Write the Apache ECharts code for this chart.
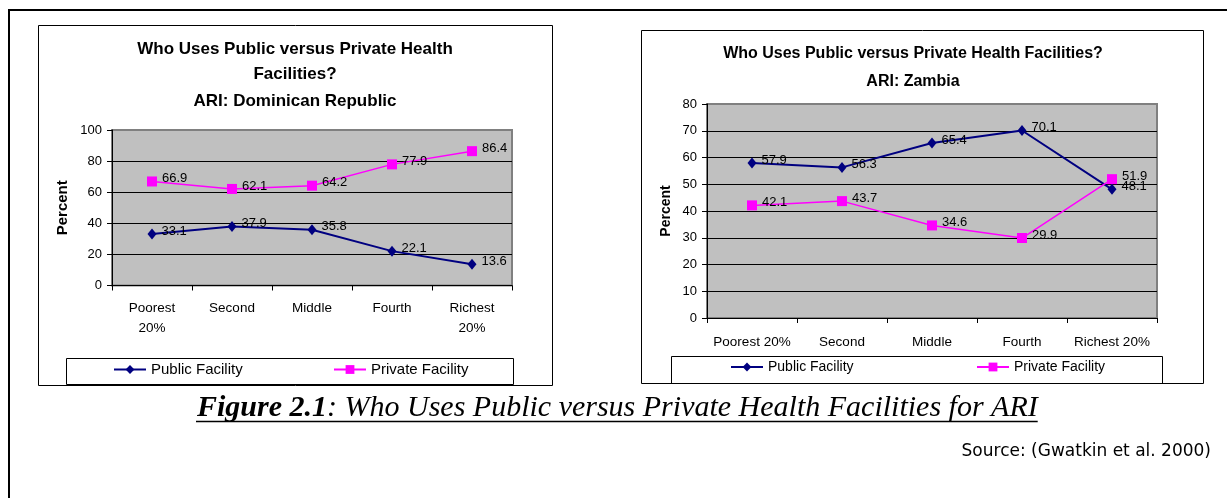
<!DOCTYPE html>
<html><head><meta charset="utf-8">
<script src="https://cdn.jsdelivr.net/npm/echarts@6/dist/echarts.min.js"></script>
<style>html,body{margin:0;padding:0;background:#fff}#c{width:1227px;height:498px}</style>
</head><body><div id="c"></div>
<script>
// ---- data ----
const drCategories = ['Poorest\n20%', 'Second', 'Middle', 'Fourth', 'Richest\n20%'];
const zmCategories = ['Poorest 20%', 'Second', 'Middle', 'Fourth', 'Richest 20%'];
const drPublic = [33.1, 37.9, 35.8, 22.1, 13.6];
const drPrivate = [66.9, 62.1, 64.2, 77.9, 86.4];
const zmPublic = [57.9, 56.3, 65.4, 70.1, 48.1];
const zmPrivate = [42.1, 43.7, 34.6, 29.9, 51.9];
const drTitle = ['Who Uses Public versus Private Health', 'Facilities?', 'ARI: Dominican Republic'];
const zmTitle = ['Who Uses Public versus Private Health Facilities?', 'ARI: Zambia'];
const seriesNames = ['Public Facility', 'Private Facility'];
const yLabel = 'Percent';
const captionBold = 'Figure 2.1';
const captionRest = ': Who Uses Public versus Private Health Facilities for ARI';
const sourceText = 'Source: (Gwatkin et al. 2000)';

// ---- styling ----
const FONT = '"Liberation Sans", Arial, sans-serif';
const SERIF = '"Liberation Serif", "Times New Roman", serif';
const NAVY = '#000080', MAGENTA = '#FF00FF';
const CAP_SIZE = 30;

function xAxisCfg(gridIndex, data, margin, fs) {
  return {type: 'category', gridIndex, data, boundaryGap: true,
    axisLine: {show: true, lineStyle: {color: '#000', width: 1}},
    axisTick: {show: true, length: 5, lineStyle: {color: '#000'}},
    axisLabel: {color: '#000', fontFamily: FONT, fontSize: fs, margin, lineHeight: 20, interval: 0},
    splitLine: {show: false}};
}
function yAxisCfg(gridIndex, max, interval, nameGap, nameSize) {
  return {type: 'value', gridIndex, min: 0, max, interval,
    name: yLabel, nameLocation: 'middle', nameRotate: 90, nameGap,
    nameTextStyle: {color: '#000', fontFamily: FONT, fontWeight: 'bold', fontSize: nameSize},
    axisLine: {show: true, lineStyle: {color: '#000'}},
    axisTick: {show: true, length: 5, lineStyle: {color: '#000'}},
    axisLabel: {color: '#000', fontFamily: FONT, fontSize: 13, margin: 10},
    splitLine: {show: true, showMaxLine: false, lineStyle: {color: '#000', width: 1}}};
}
function lineSeries(name, idx, data, color, symbol, size, width) {
  return {type: 'line', name, xAxisIndex: idx, yAxisIndex: idx, data, color,
    symbol, symbolSize: size, showAllSymbol: true,
    lineStyle: {color, width}, itemStyle: {color},
    label: {show: true, position: 'right', distance: 5, offset: [0, -3], color: '#000', fontFamily: FONT, fontSize: 13},
    emphasis: {disabled: true}, z: 3};
}
function legendCfg(name, left, top, fs) {
  return {data: [name], left, top, padding: 0, itemWidth: 32, itemHeight: 11,
    selectedMode: false, textStyle: {color: '#000', fontFamily: FONT, fontSize: fs}};
}

// measure caption for underline
const mctx = document.createElement('canvas').getContext('2d');
mctx.font = 'italic bold ' + CAP_SIZE + 'px "Liberation Serif"';
const wBold = mctx.measureText(captionBold).width;
mctx.font = 'italic ' + CAP_SIZE + 'px "Liberation Serif"';
const wRest = mctx.measureText(captionRest).width;
const capX = 197;

const graphics = [
  {type: 'polyline', shape: {points: [[1227, 10], [9, 10], [9, 498]]}, style: {stroke: '#000', lineWidth: 2, fill: null}},
  {type: 'rect', shape: {x: 38.5, y: 25.5, width: 514, height: 360}, style: {stroke: '#000', lineWidth: 1, fill: null}},
  {type: 'rect', shape: {x: 66.5, y: 358.5, width: 447, height: 26}, style: {stroke: '#000', lineWidth: 1, fill: null}},
  {type: 'rect', shape: {x: 641.5, y: 30.5, width: 562, height: 353}, style: {stroke: '#000', lineWidth: 1, fill: null}},
  {type: 'rect', shape: {x: 671.5, y: 356.5, width: 491, height: 27}, style: {stroke: '#000', lineWidth: 1, fill: null}},
  {type: 'text', x: capX, y: 408, style: {text: captionBold, font: 'italic bold ' + CAP_SIZE + 'px ' + SERIF, fill: '#000', align: 'left', verticalAlign: 'middle'}},
  {type: 'text', x: capX + wBold, y: 408, style: {text: captionRest, font: 'italic ' + CAP_SIZE + 'px ' + SERIF, fill: '#000', align: 'left', verticalAlign: 'middle'}},
  {type: 'line', shape: {x1: capX - 1, y1: 421.5, x2: capX + wBold + wRest, y2: 421.5}, style: {stroke: '#000', lineWidth: 1.5}},
  {type: 'text', x: 1211, y: 452, style: {text: sourceText, font: '17px "DejaVu Sans", sans-serif', fill: '#000', align: 'right', verticalAlign: 'middle'}}
];
const drTitleY = [49, 74, 101];
drTitle.forEach((t, i) => graphics.push({type: 'text', x: 295, y: drTitleY[i],
  style: {text: t, font: 'bold 17px ' + FONT, fill: '#000', align: 'center', verticalAlign: 'middle'}}));
const zmTitleY = [54, 82];
zmTitle.forEach((t, i) => graphics.push({type: 'text', x: 913, y: zmTitleY[i],
  style: {text: t, font: 'bold 16px ' + FONT, fill: '#000', align: 'center', verticalAlign: 'middle'}}));

const chart = echarts.init(document.getElementById('c'));
chart.setOption({
  animation: false,
  backgroundColor: '#fff',
  grid: [
    {left: 112, top: 130, width: 400, height: 155.5, show: true, backgroundColor: '#C0C0C0', borderColor: '#808080', borderWidth: 2},
    {left: 707, top: 104, width: 450, height: 214, show: true, backgroundColor: '#C0C0C0', borderColor: '#808080', borderWidth: 2}
  ],
  xAxis: [xAxisCfg(0, drCategories, 13, 13.5), xAxisCfg(1, zmCategories, 14, 13.5)],
  yAxis: [yAxisCfg(0, 100, 20, 42, 15), yAxisCfg(1, 80, 10, 34, 14)],
  legend: [
    legendCfg(seriesNames[0], 113, 362, 15),
    legendCfg(seriesNames[1], 333, 362, 15),
    legendCfg(seriesNames[0], 730, 360, 14),
    legendCfg(seriesNames[1], 976, 360, 14)
  ],
  series: [
    lineSeries(seriesNames[0], 0, drPublic, NAVY, 'diamond', [9, 11], 2),
    lineSeries(seriesNames[1], 0, drPrivate, MAGENTA, 'rect', 10, 1.5),
    lineSeries(seriesNames[0], 1, zmPublic, NAVY, 'diamond', [9, 11], 2),
    lineSeries(seriesNames[1], 1, zmPrivate, MAGENTA, 'rect', 10, 1.5)
  ],
  graphic: graphics
});
</script></body></html>
